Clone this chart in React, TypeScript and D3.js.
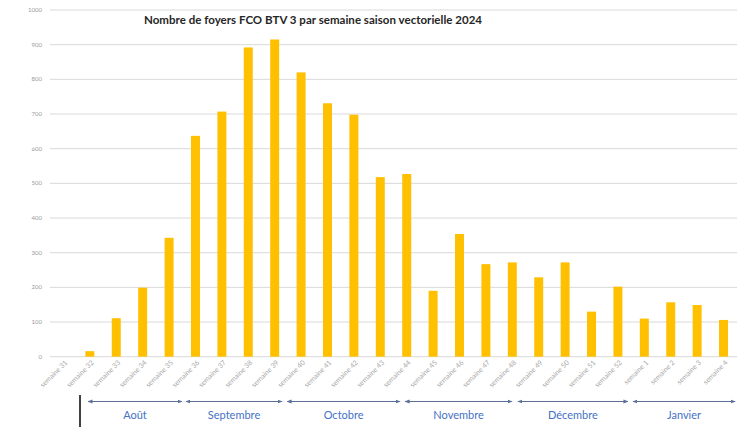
import React, { useEffect, useRef } from 'react'
import * as d3 from 'd3'

// weeks of the 2024 vector season
const weeks = ['semaine 31', 'semaine 32', 'semaine 33', 'semaine 34', 'semaine 35', 'semaine 36', 'semaine 37',
  'semaine 38', 'semaine 39', 'semaine 40', 'semaine 41', 'semaine 42', 'semaine 43', 'semaine 44',
  'semaine 45', 'semaine 46', 'semaine 47', 'semaine 48', 'semaine 49', 'semaine 50', 'semaine 51',
  'semaine 52', 'semaine 1', 'semaine 2', 'semaine 3', 'semaine 4']
const foyers = [0, 16, 111, 199, 343, 637, 707, 892, 915, 820, 731, 698, 518, 527,
  190, 354, 267, 272, 229, 272, 130, 202, 110, 157, 149, 106]
const yTicks = [0, 100, 200, 300, 400, 500, 600, 700, 800, 900, 1000]
// months, and the span of each arrow in week index units (0 = semaine 31)
const months = ['Août', 'Septembre', 'Octobre', 'Novembre', 'Décembre', 'Janvier']
const monthFrom = [0.93, 4.64, 8.47, 12.94, 17.21, 21.57]
const monthTo = [4.49, 8.28, 12.75, 16.99, 21.38, 25.44]

const W = 742
const H = 427

export default function App() {
  const ref = useRef<SVGSVGElement>(null)

  useEffect(() => {
    const svg = d3.select(ref.current)
    svg.selectAll('*').remove()

    const x = d3.scaleBand<string>()
      .domain(weeks)
      .range([50, 737])
      .paddingInner(0.66)
      .paddingOuter(0.34)
    const y = d3.scaleLinear()
      .domain([0, 1000])
      .range([356.7, 10])
    const half = x.bandwidth() / 2
    // week index -> pixel, through the band centres
    const xi = d3.scaleLinear()
      .domain([0, weeks.length - 1])
      .range([(x(weeks[0]) as number) + half, (x(weeks[weeks.length - 1]) as number) + half])

    // gridlines
    svg.append('g')
      .selectAll('line')
      .data(yTicks)
      .enter()
      .append('line')
      .attr('x1', 50)
      .attr('x2', 737)
      .attr('y1', d => y(d))
      .attr('y2', d => y(d))
      .attr('stroke', '#d9d9d9')
      .attr('stroke-width', 1)

    // y labels
    svg.append('g')
      .selectAll('text')
      .data(yTicks)
      .enter()
      .append('text')
      .attr('x', 42)
      .attr('y', d => y(d))
      .attr('dy', '0.35em')
      .attr('text-anchor', 'end')
      .style('font-family', 'Lato, sans-serif')
      .style('font-size', '6px')
      .attr('fill', '#9a9a9a')
      .text(d => d)

    // bars
    svg.append('g')
      .selectAll('rect')
      .data(foyers)
      .enter()
      .append('rect')
      .attr('x', (d, i) => x(weeks[i]) as number)
      .attr('y', d => y(d))
      .attr('width', x.bandwidth())
      .attr('height', d => y(0) - y(d))
      .attr('fill', '#ffc000')

    // title
    svg.append('text')
      .attr('x', 313)
      .attr('y', 24)
      .attr('text-anchor', 'middle')
      .attr('textLength', 338)
      .style('font-family', 'Lato, sans-serif')
      .style('font-weight', 'bold')
      .style('font-size', '11.5px')
      .attr('fill', '#262626')
      .text('Nombre de foyers FCO BTV 3 par semaine saison vectorielle 2024')

    // x labels, rotated
    svg.append('g')
      .selectAll('text')
      .data(weeks)
      .enter()
      .append('text')
      .attr('transform', d => 'translate(' + ((x(d) as number) + half + 4.5) + ',363) rotate(-45)')
      .attr('text-anchor', 'end')
      .style('font-family', 'Lato, sans-serif')
      .style('font-size', '7px')
      .attr('fill', '#aaaaaa')
      .text(d => d)

    // month arrows
    const defs = svg.append('defs')
    defs.append('marker')
      .attr('id', 'head')
      .attr('viewBox', '0 0 10 10')
      .attr('refX', 9)
      .attr('refY', 5)
      .attr('markerWidth', 5)
      .attr('markerHeight', 5)
      .attr('orient', 'auto-start-reverse')
      .append('path')
      .attr('d', 'M0,1 L10,5 L0,9 Z')
      .attr('fill', '#5b6f99')

    const arrows = svg.append('g')
    months.forEach((m, i) => {
      const x1 = xi(monthFrom[i])
      const x2 = xi(monthTo[i])
      arrows.append('line')
        .attr('x1', x1)
        .attr('x2', x2)
        .attr('y1', 401.5)
        .attr('y2', 401.5)
        .attr('stroke', '#5b6f99')
        .attr('stroke-width', 1)
        .attr('marker-start', 'url(#head)')
        .attr('marker-end', 'url(#head)')
      arrows.append('text')
        .attr('x', (x1 + x2) / 2)
        .attr('y', 419)
        .attr('text-anchor', 'middle')
        .style('font-family', 'Lato, sans-serif')
        .style('font-size', '11px')
        .attr('fill', '#4472c4')
        .text(m)
    })

    // black separator
    svg.append('line')
      .attr('x1', 80)
      .attr('x2', 80)
      .attr('y1', 395)
      .attr('y2', H)
      .attr('stroke', '#000')
      .attr('stroke-width', 1.5)
  }, [])

  return (
    <div style={{ position: 'absolute', left: 0, top: 0 }}>
      <svg ref={ref} width={W} height={H} style={{ display: 'block', background: '#fff' }}></svg>
    </div>
  )
}
